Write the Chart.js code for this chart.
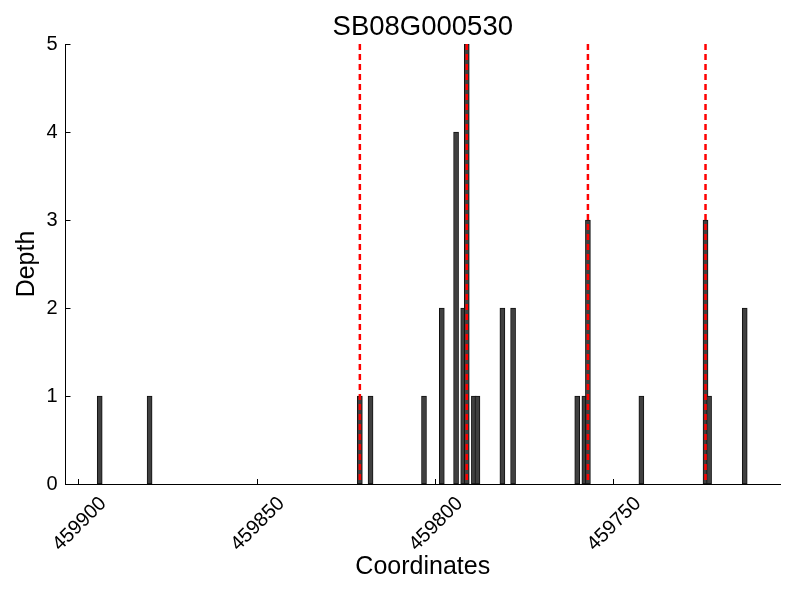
<!DOCTYPE html>
<html>
<head>
<meta charset="utf-8">
<script src="https://cdn.jsdelivr.net/npm/chart.js@4/dist/chart.umd.min.js"></script>
<style>
  body { margin: 0; background: #fff; }
  canvas { display: block; }
</style>
</head>
<body>
<canvas id="depthChart" width="800" height="600"></canvas>
<script>
// Read positions (bp) and depth of each bar
const positions = [459894, 459880, 459821, 459818, 459803, 459798, 459794, 459792, 459791, 459789,
                   459788, 459781, 459778, 459760, 459758, 459757, 459742, 459724, 459723, 459713];
const depths = [1, 1, 1, 1, 1, 2, 4, 2, 5, 1,
                1, 2, 2, 1, 1, 3, 1, 3, 1, 2];

// Red dashed marker lines
const markers = [459821, 459791, 459757, 459724];

const xTicks = [459900, 459850, 459800, 459750];
const yTicks = [0, 1, 2, 3, 4, 5];

const FONT = "'Liberation Sans', Arial, sans-serif";


// Markers + inward tick marks
const extrasPlugin = {
    id: 'extras',

    afterDraw(chart) {
        const ctx = chart.ctx;
        const area = chart.chartArea;
        const xs = chart.scales.x;
        const ys = chart.scales.y;

        ctx.save();

        // tick marks pointing inwards
        ctx.strokeStyle = '#000';
        ctx.lineWidth = 1;
        ctx.beginPath();
        xTicks.forEach(function (v) {
            const px = Math.round(xs.getPixelForValue(v)) + 0.5;
            ctx.moveTo(px, area.bottom);
            ctx.lineTo(px, area.bottom - 5);
        });
        yTicks.forEach(function (v) {
            const py = Math.round(ys.getPixelForValue(v)) + 0.5;
            ctx.moveTo(area.left, py);
            ctx.lineTo(area.left + 5, py);
        });
        ctx.stroke();

        // red dashed lines
        ctx.strokeStyle = '#ff0000';
        ctx.lineWidth = 2.5;
        ctx.setLineDash([6, 4]);
        markers.forEach(function (m) {
            const px = xs.getPixelForValue(m);
            ctx.beginPath();
            ctx.moveTo(px, area.top);
            ctx.lineTo(px, area.bottom);
            ctx.stroke();
        });

        ctx.restore();
    }
};


// Create Depth Chart
const ctx = document.getElementById('depthChart').getContext('2d');

new Chart(ctx, {
    type: 'bar',

    data: {
        datasets: [{
            label: 'Depth',
            data: positions.map(function (p, i) { return { x: p, y: depths[i] }; }),
            backgroundColor: '#404040',
            borderColor: '#111111',
            borderWidth: 1,
            borderSkipped: false,
            barThickness: 5
        }]
    },

    plugins: [extrasPlugin],

    options: {
        responsive: false,
        animation: false,

        layout: {
            padding: { left: 0, right: 20, top: 0, bottom: 0 }
        },

        plugins: {
            legend: { display: false },
            tooltip: { enabled: false },
            title: {
                display: true,
                text: 'SB08G000530',
                color: '#000',
                fullSize: false,
                font: { family: FONT, size: 27.5, weight: 'normal' },
                padding: { top: 11, bottom: 0 }
            }
        },

        scales: {
            x: {
                type: 'linear',
                reverse: true,
                offset: false,
                min: 459703.1,
                max: 459903.6,
                afterBuildTicks: function (scale) {
                    scale.ticks = xTicks.map(function (v) { return { value: v }; });
                },
                afterFit: function (scale) {
                    scale.height = 116;
                },
                grid: { display: false, drawTicks: false },
                border: { display: true, color: '#000', width: 1 },
                ticks: {
                    color: '#000',
                    font: { family: FONT, size: 20 },
                    minRotation: 45,
                    maxRotation: 45,
                    autoSkip: false,
                    padding: 8,
                    labelOffset: 25,
                    callback: function (v) { return String(v); }
                },
                title: {
                    display: true,
                    text: 'Coordinates',
                    color: '#000',
                    font: { family: FONT, size: 25 },
                    padding: { top: 4, bottom: 18 }
                }
            },

            y: {
                min: 0,
                max: 5,
                afterFit: function (scale) {
                    scale.width = 65.5;
                },
                grid: { display: false, drawTicks: false },
                border: { display: true, color: '#000', width: 1 },
                ticks: {
                    stepSize: 1,
                    color: '#000',
                    font: { family: FONT, size: 20 },
                    padding: 8
                },
                title: {
                    display: true,
                    text: 'Depth',
                    color: '#000',
                    font: { family: FONT, size: 25 },
                    padding: { top: 12, bottom: 0 }
                }
            }
        }
    }
});
</script>
</body>
</html>
